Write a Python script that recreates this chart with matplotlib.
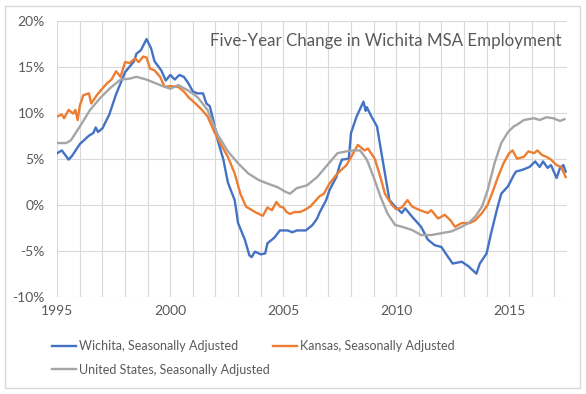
import matplotlib
matplotlib.use('Agg')
import matplotlib.pyplot as plt
from matplotlib.patches import Rectangle
from matplotlib.ticker import FuncFormatter, MultipleLocator

plt.rcParams['font.family'] = ['Lato', 'DejaVu Sans']

# values (year, % five-year change)
wichita_years = [1995.0, 1995.2, 1995.35, 1995.5, 1995.65, 1996.0, 1996.4, 1996.6, 1996.7, 1996.8,
                 1997.0, 1997.3, 1997.6, 1998.0, 1998.3, 1998.4, 1998.5, 1998.7, 1998.95, 1999.15,
                 1999.3, 1999.6, 1999.8, 2000.0, 2000.2, 2000.4, 2000.6, 2000.8, 2001.0, 2001.2,
                 2001.45, 2001.6, 2001.75, 2001.9, 2002.1, 2002.35, 2002.55, 2002.85, 2003.0, 2003.3,
                 2003.5, 2003.6, 2003.75, 2004.0, 2004.2, 2004.3, 2004.6, 2004.85, 2005.2, 2005.4,
                 2005.6, 2006.0, 2006.3, 2006.5, 2006.6, 2006.9, 2007.05, 2007.35, 2007.5, 2007.6,
                 2007.9, 2008.0, 2008.25, 2008.55, 2008.65, 2008.7, 2008.9, 2009.15, 2009.3, 2009.5,
                 2009.7, 2009.95, 2010.25, 2010.4, 2010.7, 2011.1, 2011.4, 2011.7, 2012.0, 2012.3,
                 2012.5, 2012.9, 2013.2, 2013.55, 2013.7, 2014.0, 2014.2, 2014.45, 2014.65, 2014.95,
                 2015.2, 2015.3, 2015.6, 2015.9, 2016.15, 2016.35, 2016.5, 2016.7, 2016.85, 2017.1,
                 2017.25, 2017.4, 2017.5]
wichita_vals = [5.6, 5.9, 5.4, 4.9, 5.3, 6.6, 7.5, 7.8, 8.4, 7.9,
                8.3, 9.8, 12.0, 14.4, 15.3, 15.6, 16.4, 16.8, 18.0, 17.0,
                15.6, 14.6, 13.5, 14.1, 13.6, 14.1, 13.9, 13.2, 12.3, 12.1,
                12.1, 11.0, 10.7, 9.2, 7.0, 4.9, 2.4, 0.5, -2.0, -3.8,
                -5.5, -5.7, -5.1, -5.4, -5.3, -4.2, -3.6, -2.8, -2.8, -3.0,
                -2.8, -2.8, -2.2, -1.5, -0.9, 0.5, 1.6, 3.0, 4.3, 4.9,
                5.0, 7.8, 9.6, 11.2, 10.2, 10.6, 9.6, 8.5, 6.3, 3.4,
                0.5, -0.2, -0.9, -0.4, -1.3, -2.4, -3.8, -4.4, -4.6, -5.7,
                -6.4, -6.2, -6.7, -7.5, -6.4, -5.3, -3.1, -0.6, 1.2, 2.0,
                3.2, 3.6, 3.8, 4.1, 4.7, 4.1, 4.7, 4.0, 4.3, 2.9,
                4.0, 4.3, 3.6]

kansas_years = [1995.0, 1995.2, 1995.3, 1995.5, 1995.7, 1995.8, 1995.9, 1996.0, 1996.15, 1996.4,
                1996.5, 1996.75, 1996.95, 1997.2, 1997.4, 1997.6, 1997.8, 1998.0, 1998.2, 1998.45,
                1998.6, 1998.8, 1998.95, 1999.1, 1999.3, 1999.55, 1999.75, 2000.0, 2000.35, 2000.6,
                2000.8, 2001.2, 2001.4, 2001.65, 2001.95, 2002.25, 2002.55, 2002.85, 2003.1, 2003.35,
                2003.75, 2004.0, 2004.1, 2004.3, 2004.5, 2004.7, 2004.85, 2005.0, 2005.15, 2005.3,
                2005.5, 2005.75, 2006.0, 2006.2, 2006.6, 2006.8, 2007.05, 2007.4, 2007.8, 2008.1,
                2008.3, 2008.45, 2008.6, 2008.75, 2009.05, 2009.3, 2009.5, 2009.8, 2010.0, 2010.25,
                2010.5, 2010.7, 2011.05, 2011.4, 2011.55, 2011.85, 2012.15, 2012.4, 2012.6, 2012.9,
                2013.25, 2013.5, 2013.8, 2014.05, 2014.3, 2014.5, 2014.75, 2015.0, 2015.15, 2015.35,
                2015.65, 2015.85, 2016.1, 2016.25, 2016.45, 2016.65, 2016.85, 2017.1, 2017.3, 2017.5]
kansas_vals = [9.6, 9.8, 9.4, 10.3, 9.9, 10.3, 9.2, 10.8, 11.9, 12.1,
               11.0, 11.9, 12.5, 13.2, 13.6, 14.5, 13.9, 15.5, 15.4, 15.9,
               15.5, 16.1, 16.0, 14.8, 14.6, 13.9, 12.8, 12.9, 12.8, 12.3,
               11.7, 10.8, 10.3, 9.6, 7.9, 6.5, 5.2, 3.4, 1.2, -0.2,
               -0.8, -1.1, -1.2, -0.3, -0.6, 0.3, -0.2, -0.3, -0.8, -1.0,
               -0.8, -0.8, -0.5, -0.2, 0.9, 1.2, 2.3, 3.4, 4.3, 5.6,
               6.5, 6.2, 5.9, 6.1, 5.0, 3.0, 1.2, 0.0, -0.5, -0.3,
               0.5, -0.2, -0.6, -0.9, -0.6, -1.5, -1.1, -1.7, -2.4, -2.0,
               -2.0, -1.7, -0.9, 0.0, 1.6, 3.0, 4.5, 5.6, 5.9, 5.0,
               5.2, 5.8, 5.6, 5.9, 5.4, 5.2, 4.9, 4.3, 4.1, 3.0]

us_years = [1995.0, 1995.4, 1995.6, 1996.0, 1996.45, 1996.9, 1997.35, 1997.8, 1998.2, 1998.5,
            1998.95, 1999.55, 2000.0, 2000.35, 2000.8, 2001.2, 2001.65, 2002.1, 2002.55, 2003.0,
            2003.45, 2003.9, 2004.3, 2004.75, 2005.1, 2005.3, 2005.6, 2006.05, 2006.5, 2006.95,
            2007.4, 2007.8, 2008.1, 2008.4, 2008.7, 2009.0, 2009.3, 2009.6, 2009.95, 2010.25,
            2010.7, 2011.1, 2011.55, 2012.0, 2012.45, 2012.9, 2013.2, 2013.5, 2013.8, 2014.05,
            2014.35, 2014.65, 2014.95, 2015.2, 2015.35, 2015.65, 2016.1, 2016.35, 2016.65, 2016.95,
            2017.25, 2017.45]
us_vals = [6.7, 6.7, 7.0, 8.5, 10.3, 11.6, 12.7, 13.6, 13.7, 13.9,
           13.6, 13.0, 12.6, 13.0, 12.4, 11.7, 10.3, 7.6, 5.8, 4.5,
           3.4, 2.7, 2.3, 1.9, 1.4, 1.2, 1.8, 2.1, 3.0, 4.3,
           5.6, 5.8, 5.9, 5.9, 4.9, 3.0, 0.9, -0.9, -2.2, -2.4,
           -2.75, -3.3, -3.3, -3.1, -2.9, -2.4, -2.0, -1.3, -0.2, 1.6,
           4.5, 6.7, 7.9, 8.5, 8.7, 9.2, 9.4, 9.2, 9.5, 9.4,
           9.1, 9.3]

series_names = ['Wichita, Seasonally Adjusted', 'Kansas, Seasonally Adjusted',
                'United States, Seasonally Adjusted']
title = 'Five-Year Change in Wichita MSA Employment'
x_ticks = [1995, 2000, 2005, 2010, 2015]

text_color = '#595959'
grid_color = '#d9d9d9'

fig = plt.figure(figsize=(5.86, 3.94), dpi=100)
ax = fig.add_axes([0.0978, 0.247, 0.8702, 0.7005])

l1, = ax.plot(wichita_years, wichita_vals, color='#4472C4', lw=1.7, label=series_names[0], zorder=3)
l2, = ax.plot(kansas_years, kansas_vals, color='#ED7D31', lw=1.7, label=series_names[1], zorder=4)
l3, = ax.plot(us_years, us_vals, color='#A5A5A5', lw=1.7, label=series_names[2], zorder=5)

ax.set_xlim(1995, 2017.57)
ax.set_ylim(-10, 20)
ax.set_xticks(x_ticks)
ax.xaxis.set_minor_locator(MultipleLocator(1))
ax.yaxis.set_major_locator(MultipleLocator(5))
ax.yaxis.set_major_formatter(FuncFormatter(lambda v, p: '%d%%' % v))
ax.grid(True, which='both', color=grid_color, lw=0.8)
ax.set_axisbelow(True)
for s in ax.spines.values():
    s.set_visible(False)
ax.tick_params(which='both', length=0, colors=text_color, labelsize=10)
ax.tick_params(axis='x', pad=6)
ax.tick_params(axis='y', pad=9)

ax.text(0.989, 0.925, title, transform=ax.transAxes, ha='right', va='center',
        fontsize=12.2, color=text_color)

# legend order: columns fill top-down, so put US second to get it on row 2
fig.legend([l1, l3, l2], [series_names[0], series_names[2], series_names[1]],
           loc='upper left', bbox_to_anchor=(0.080, 0.150), ncol=2, frameon=False,
           fontsize=9, handlelength=1.95, handletextpad=0.2, columnspacing=0.25,
           labelspacing=0.95, borderaxespad=0, labelcolor=text_color)

fig.patches.append(Rectangle((5 / 586, 6 / 394), 575 / 586, 382 / 394, transform=fig.transFigure,
                             fill=False, edgecolor=grid_color, lw=1))

fig.savefig('out.png', dpi=100, facecolor='white')
